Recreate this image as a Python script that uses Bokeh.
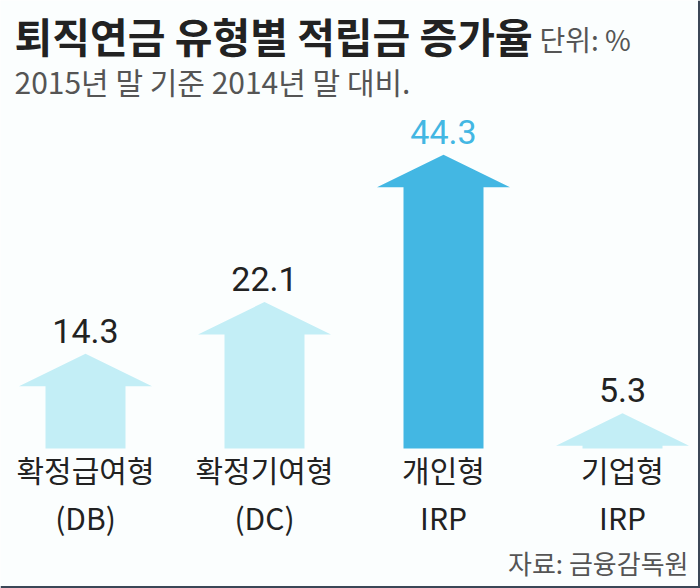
from bokeh.plotting import figure
from bokeh.models import ColumnDataSource, Range1d, Label, Span
from bokeh.core.properties import value
from bokeh.embed import file_html
from bokeh.resources import INLINE

# ---- data ----
categories_line1 = ["확정급여형", "확정기여형", "개인형", "기업형"]
categories_line2 = ["(DB)", "(DC)", "IRP", "IRP"]
growth_rates = [14.3, 22.1, 44.3, 5.3]
value_labels = ["14.3", "22.1", "44.3", "5.3"]
highlight = [False, False, True, False]

title_text = "퇴직연금 유형별 적립금 증가율"
unit_text = "단위: %"
subtitle_text = "2015년 말 기준 2014년 말 대비."
source_text = "자료: 금융감독원"

# ---- style ----
W, H = 700, 588
PX_PER_UNIT = 6.63          # vertical pixels per percentage point
BASE_FROM_BOTTOM = 140      # baseline position in px from bottom
X_PX = 179                  # px per category slot
X0_PX = 85                  # px of first category centre
HEAD_H = 4.9                # arrow head height in data units
SHAFT_HW = 40 / X_PX
HEAD_HW = 66.5 / X_PX
LIGHT = "#c3eef6"
DARK = "#43b7e3"
TEXT_DARK = "#222222"
BG = "#fbfefe"
FONT = "Noto Sans CJK KR"

xs, ys, fills = [], [], []
for i, v in enumerate(growth_rates):
    hb = max(v - HEAD_H, 0.0)
    xs.append([i - SHAFT_HW, i - SHAFT_HW, i - HEAD_HW, i, i + HEAD_HW, i + SHAFT_HW, i + SHAFT_HW])
    ys.append([0, hb, hb, v, hb, hb, 0])
    fills.append(DARK if highlight[i] else LIGHT)

arrows = ColumnDataSource(dict(xs=xs, ys=ys, fill=fills))
labels = ColumnDataSource(dict(
    x=list(range(len(growth_rates))),
    y=growth_rates,
    base=[0] * len(growth_rates),
    txt=value_labels,
    l1=categories_line1,
    l2=categories_line2,
    col=[DARK if h else TEXT_DARK for h in highlight],
))

p = figure(
    width=W, height=H, output_backend="svg", toolbar_location=None,
    x_range=Range1d(-X0_PX / X_PX, (W - X0_PX) / X_PX),
    y_range=Range1d(-BASE_FROM_BOTTOM / PX_PER_UNIT, (H - BASE_FROM_BOTTOM) / PX_PER_UNIT),
    x_axis_location=None, y_axis_location=None, min_border=0,
    background_fill_color=BG, border_fill_color=BG, outline_line_color=None,
)
p.grid.visible = False

p.patches("xs", "ys", source=arrows, fill_color="fill", line_color=None)

p.text("x", "y", text="txt", source=labels, text_align="center", text_baseline="bottom",
       y_offset=-11, text_font=value("Roboto"), text_font_size="34px", text_color="col")

p.text("x", "base", text="l1", source=labels, text_align="center", text_baseline="middle",
       y_offset=20, text_font=value(FONT), text_font_size="30px", text_color=TEXT_DARK)
p.text("x", "base", text="l2", source=labels, text_align="center", text_baseline="middle",
       y_offset=68, text_font=value(FONT), text_font_size="30px", text_color=TEXT_DARK)

p.add_layout(Label(x=14, y=554, x_units="screen", y_units="screen", text=title_text,
                   text_font=FONT, text_font_size="41px", text_font_style="bold",
                   text_color=TEXT_DARK, text_baseline="middle"))
p.add_layout(Label(x=539, y=550, x_units="screen", y_units="screen", text=unit_text,
                   text_font=FONT, text_font_size="28px", text_color="#555555",
                   text_baseline="middle"))
p.add_layout(Label(x=14, y=508, x_units="screen", y_units="screen", text=subtitle_text,
                   text_font=FONT, text_font_size="30px", text_color="#555555",
                   text_baseline="middle"))
p.add_layout(Label(x=688, y=26, x_units="screen", y_units="screen", text=source_text,
                   text_font=FONT, text_font_size="26px", text_color="#555555",
                   text_align="right", text_baseline="middle"))

p.add_layout(Span(location=p.x_range.end, dimension="height", line_color="#3b4757", line_width=5))
p.add_layout(Span(location=p.y_range.start, dimension="width", line_color="#3b4757", line_width=5))

open("out.html", "w").write(file_html(p, INLINE))
